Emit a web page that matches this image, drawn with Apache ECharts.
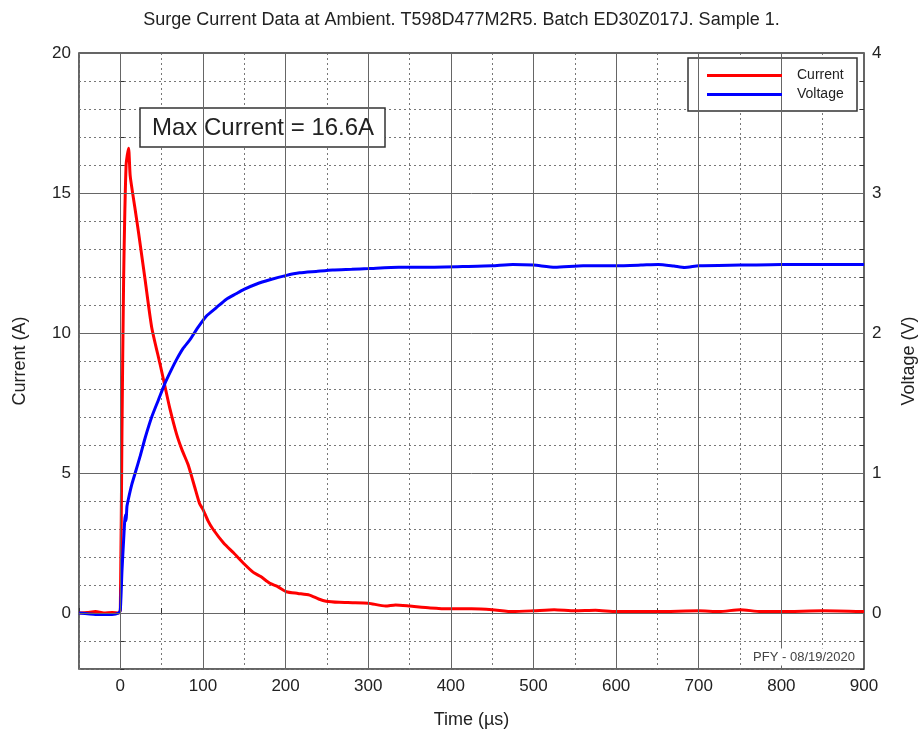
<!DOCTYPE html>
<html>
<head>
<meta charset="utf-8">
<script src="https://cdn.jsdelivr.net/npm/echarts@6/dist/echarts.min.js"></script>
<style>
html,body{margin:0;padding:0;background:#fff;}
#container{width:923px;height:736px;}
</style>
</head>
<body>
<div id="container"></div>
<script>
// surge current / voltage
var timeI = [-50,-40,-30,-20,-10,-2,0,2,4,7,10,12,18,22,30,38,48,54,60,68,75,82,90,96,100,106,112,125,137,150,161,170,181,190,201,215,229,240,249,265,281,300,321,333,350,375,400,425,450,475,500,525,550,575,600,650,700,725,750,775,800,850,900];
var current = [0.0,0.02,0.05,0.0,0.02,0.0,0.1,6.5,11.9,16.0,16.6,15.6,14.4,13.6,11.9,10.2,8.9,8.1,7.3,6.4,5.8,5.3,4.5,3.9,3.7,3.3,3.0,2.5,2.15,1.75,1.45,1.3,1.06,0.95,0.76,0.7,0.64,0.5,0.42,0.38,0.37,0.35,0.25,0.29,0.25,0.18,0.15,0.15,0.12,0.05,0.08,0.12,0.08,0.1,0.05,0.05,0.08,0.05,0.12,0.05,0.05,0.08,0.05];

var timeV = [-50,-30,-10,-2,0,2,4,6,7,8,10,14,18,24,30,38,46,54,62,68,76,84,94,104,116,128,140,149,165,181,200,217,237,257,280,300,337,380,420,450,475,500,526,560,600,630,651,670,683,700,750,800,850,900];
var voltage = [0.0,-0.01,-0.01,0.0,0.02,0.3,0.52,0.7,0.66,0.76,0.82,0.92,1.0,1.12,1.25,1.40,1.52,1.64,1.74,1.81,1.89,1.95,2.04,2.12,2.18,2.24,2.28,2.31,2.35,2.38,2.41,2.43,2.44,2.45,2.455,2.46,2.47,2.47,2.475,2.48,2.49,2.485,2.47,2.48,2.48,2.485,2.49,2.478,2.468,2.48,2.485,2.49,2.49,2.49];

var majorX = [0,100,200,300,400,500,600,700,800,900];
var majorY = [0,5,10,15,20];

var FONT = '"Liberation Sans", Arial, sans-serif';

var dom = document.getElementById('container');
var myChart = echarts.init(dom, null, {renderer: 'canvas'});

var pairs = function (xs, ys) {
    return xs.map(function (x, i) { return [x, ys[i]]; });
};

var majorLines = majorX.map(function (v) { return {xAxis: v}; })
    .concat(majorY.map(function (v) { return {yAxis: v}; }));

var option = {
    animation: false,
    backgroundColor: '#fff',
    textStyle: {fontFamily: FONT},
    title: {
        text: 'Surge Current Data at Ambient. T598D477M2R5. Batch ED30Z017J. Sample 1.',
        left: 'center',
        top: 6,
        textStyle: {fontSize: 18, fontWeight: 'normal', color: '#222', fontFamily: FONT}
    },
    grid: {
        left: 79, right: 59, top: 53, bottom: 67,
        outerBoundsMode: 'none',
        containLabel: false,
        show: true, borderColor: '#333', borderWidth: 1.5
    },
    legend: {
        data: ['Current', 'Voltage'],
        orient: 'vertical',
        left: 702,
        top: 63,
        z: 10,
        icon: 'rect',
        itemWidth: 75,
        itemHeight: 3,
        itemGap: 4,
        textStyle: {fontSize: 14, color: '#222', lineHeight: 15, padding: [0, 0, 0, 10], fontFamily: FONT}
    },
    xAxis: {
        type: 'value',
        min: -50, max: 900, interval: 50,
        name: 'Time (\u00b5s)',
        nameLocation: 'middle',
        nameGap: 42,
        nameTextStyle: {fontSize: 18, color: '#222', fontFamily: FONT},
        axisLine: {show: false},
        axisTick: {show: true, inside: true, length: 5, lineStyle: {color: '#333'}},
        axisLabel: {
            fontSize: 17, color: '#222', margin: 9, fontFamily: FONT,
            formatter: function (v) { return v % 100 === 0 ? String(v) : ''; }
        },
        splitLine: {show: true, lineStyle: {color: '#777', type: [2, 3], width: 1}}
    },
    yAxis: [{
        type: 'value',
        min: -2, max: 20, interval: 1,
        name: 'Current (A)',
        nameLocation: 'middle',
        nameGap: 50,
        nameRotate: 90,
        nameTextStyle: {fontSize: 18, color: '#222', fontFamily: FONT},
        axisLine: {show: false},
        axisTick: {show: true, inside: true, length: 4, lineStyle: {color: '#333'}},
        axisLabel: {
            fontSize: 17, color: '#222', margin: 8, fontFamily: FONT,
            formatter: function (v) { return v % 5 === 0 ? String(v) : ''; }
        },
        splitLine: {show: true, lineStyle: {color: '#777', type: [2, 3], width: 1}}
    }, {
        type: 'value',
        min: -0.4, max: 4, interval: 0.2,
        name: 'Voltage (V)',
        nameLocation: 'middle',
        nameGap: 36,
        nameRotate: 90,
        nameTextStyle: {fontSize: 18, color: '#222', fontFamily: FONT},
        axisLine: {show: false},
        axisTick: {show: true, inside: true, length: 4, lineStyle: {color: '#333'}},
        axisLabel: {
            fontSize: 17, color: '#222', margin: 8, fontFamily: FONT,
            formatter: function (v) {
                return Math.abs(v - Math.round(v)) < 1e-6 ? String(Math.round(v)) : '';
            }
        },
        splitLine: {show: false}
    }],
    graphic: [{
        type: 'rect',
        z: 5,
        shape: {x: 688, y: 58, width: 169, height: 53},
        style: {fill: '#fff', stroke: '#333', lineWidth: 1.5}
    }, {
        type: 'rect',
        z: 5,
        shape: {x: 140, y: 108, width: 245, height: 39},
        style: {fill: '#fff', stroke: '#333', lineWidth: 1.5}
    }, {
        type: 'text',
        z: 6,
        x: 152, y: 128,
        style: {text: 'Max Current = 16.6A', font: '24px ' + FONT, fill: '#222', verticalAlign: 'middle'}
    }, {
        type: 'text',
        z: 6,
        x: 857, y: 657,
        style: {
            text: 'PFY - 08/19/2020', font: '13px ' + FONT, fill: '#444',
            align: 'right', verticalAlign: 'middle',
            backgroundColor: '#fff', padding: [2, 2]
        }
    }],
    series: [{
        // solid major grid lines
        type: 'line',
        z: 1,
        silent: true,
        data: [],
        markLine: {
            silent: true,
            symbol: ['none', 'none'],
            label: {show: false},
            lineStyle: {type: 'solid', color: '#666', width: 1},
            data: majorLines
        }
    }, {
        name: 'Current',
        type: 'line',
        yAxisIndex: 0,
        showSymbol: false,
        symbol: 'none',
        smooth: 0.2,
        lineStyle: {color: '#ff0000', width: 3},
        itemStyle: {color: '#ff0000'},
        data: pairs(timeI, current)
    }, {
        name: 'Voltage',
        type: 'line',
        yAxisIndex: 1,
        showSymbol: false,
        symbol: 'none',
        smooth: 0.2,
        lineStyle: {color: '#0000ff', width: 3},
        itemStyle: {color: '#0000ff'},
        data: pairs(timeV, voltage)
    }]
};

myChart.setOption(option);
window.addEventListener('resize', function () {
    myChart.resize();
});
</script>
</body>
</html>
